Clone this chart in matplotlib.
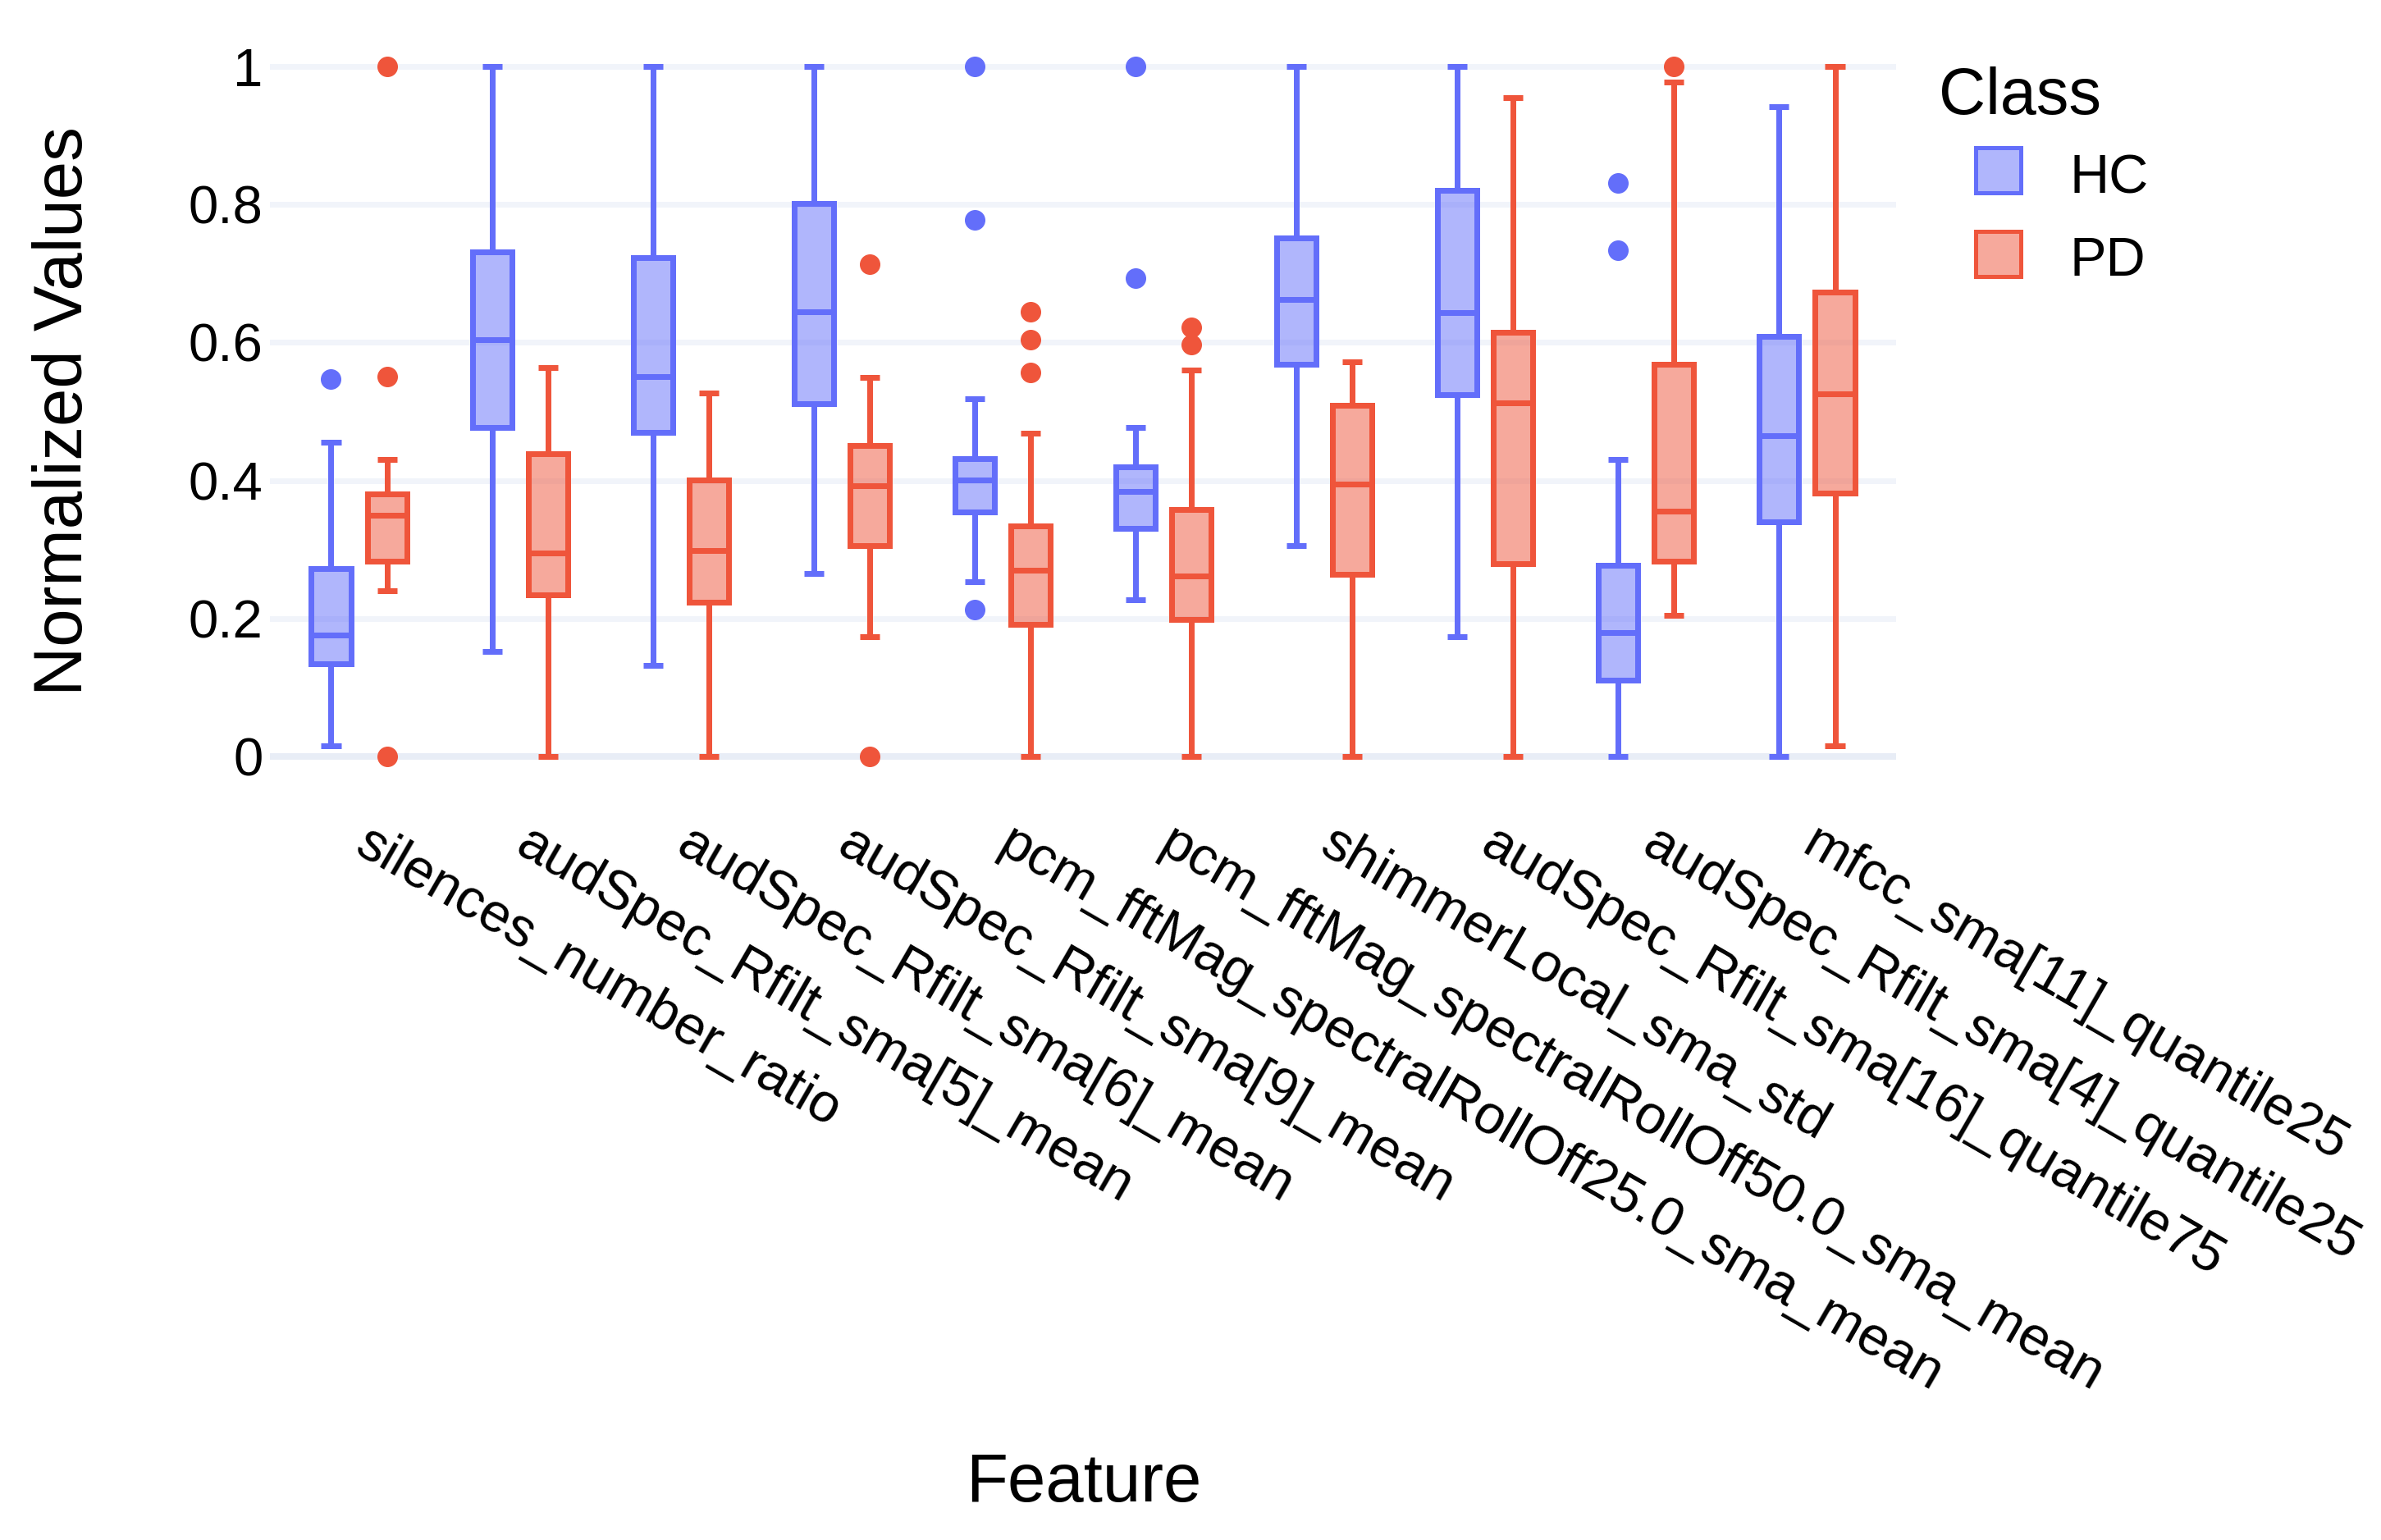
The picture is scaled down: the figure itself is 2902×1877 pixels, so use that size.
import matplotlib
matplotlib.use("Agg")
import matplotlib.pyplot as plt
from matplotlib.patches import Rectangle
from matplotlib.colors import to_rgba

plt.rcParams['font.family'] = ['Liberation Sans', 'DejaVu Sans']

# ---------------- data ----------------
features = [
    "silences_number_ratio",
    "audSpec_Rfilt_sma[5]_mean",
    "audSpec_Rfilt_sma[6]_mean",
    "audSpec_Rfilt_sma[9]_mean",
    "pcm_fftMag_spectralRollOff25.0_sma_mean",
    "pcm_fftMag_spectralRollOff50.0_sma_mean",
    "shimmerLocal_sma_std",
    "audSpec_Rfilt_sma[16]_quantile75",
    "audSpec_Rfilt_sma[4]_quantile25",
    "mfcc_sma[11]_quantile25",
]
classes = ["HC", "PD"]

hc_whislo = [0.015, 0.152, 0.132, 0.265, 0.253, 0.227, 0.305, 0.173, 0.0, 0.0]
hc_q1 = [0.134, 0.477, 0.470, 0.511, 0.354, 0.330, 0.568, 0.524, 0.111, 0.340]
hc_med = [0.176, 0.604, 0.551, 0.645, 0.401, 0.384, 0.662, 0.643, 0.180, 0.465]
hc_q3 = [0.272, 0.731, 0.723, 0.801, 0.432, 0.420, 0.752, 0.820, 0.277, 0.609]
hc_whishi = [0.456, 1.0, 1.0, 1.0, 0.519, 0.477, 1.0, 1.0, 0.430, 0.942]
hc_fliers = [[0.547], [], [], [], [1.0, 0.778, 0.213], [1.0, 0.693], [], [],
             [0.831, 0.734], []]

pd_whislo = [0.240, 0.0, 0.0, 0.173, 0.0, 0.0, 0.0, 0.0, 0.204, 0.015]
pd_q1 = [0.283, 0.234, 0.223, 0.305, 0.191, 0.198, 0.264, 0.280, 0.283, 0.382]
pd_med = [0.350, 0.295, 0.298, 0.392, 0.270, 0.261, 0.395, 0.513, 0.355, 0.526]
pd_q3 = [0.380, 0.439, 0.401, 0.451, 0.334, 0.358, 0.509, 0.615, 0.568, 0.673]
pd_whishi = [0.430, 0.564, 0.527, 0.549, 0.468, 0.560, 0.572, 0.955, 0.978, 1.0]
pd_fliers = [[1.0, 0.551, 0.0], [], [], [0.714, 0.0], [0.645, 0.604, 0.557],
             [0.622, 0.597], [], [], [1.0], []]

y_ticks = [0, 0.2, 0.4, 0.6, 0.8, 1]
y_ticklabels = ["0", "0.2", "0.4", "0.6", "0.8", "1"]

colors = {"HC": "#636EFA", "PD": "#EF553B"}

# ---------------- layout ----------------
DPI = 100
W, H = 2902, 1877
PT = 72 / DPI  # px -> pt

fig = plt.figure(figsize=(W / DPI, H / DPI), dpi=DPI)
fig.patch.set_facecolor("white")


def fx(px):
    return px / W


def fy(py):
    return 1 - py / H


ax = fig.add_axes([fx(329), fy(964), fx(2311) - fx(329), fy(39) - fy(964)])
ax.set_xlim(-0.555, len(features) - 1 + 0.555)
ax.set_ylim(-0.05, 1.05)

LW = 7 * PT
group_offset = 0.175
box_w = 0.245

series = {
    "HC": (hc_whislo, hc_q1, hc_med, hc_q3, hc_whishi, hc_fliers, -group_offset),
    "PD": (pd_whislo, pd_q1, pd_med, pd_q3, pd_whishi, pd_fliers, group_offset),
}

for cls in classes:
    wl, q1, md, q3, wh, fl, off = series[cls]
    c = colors[cls]
    stats = []
    for i in range(len(features)):
        stats.append(dict(whislo=wl[i], q1=q1[i], med=md[i], q3=q3[i],
                          whishi=wh[i], fliers=fl[i]))
    pos = [i + off for i in range(len(features))]
    ax.bxp(stats, positions=pos, widths=box_w, capwidths=box_w / 2,
           patch_artist=True, showfliers=True, manage_ticks=False,
           boxprops=dict(facecolor=to_rgba(c, 0.5), edgecolor=c, linewidth=LW),
           whiskerprops=dict(color=c, linewidth=LW, solid_capstyle="butt"),
           capprops=dict(color=c, linewidth=LW, solid_capstyle="butt"),
           medianprops=dict(color=c, linewidth=LW, solid_capstyle="butt"),
           flierprops=dict(marker="o", markerfacecolor=c, markeredgecolor=c,
                           markersize=17, linestyle="none"),
           zorder=3)

# grid
ax.set_yticks(y_ticks)
ax.set_yticklabels(y_ticklabels)
ax.yaxis.grid(True, color="#F1F4FA", linewidth=7 * PT, zorder=0)
ax.set_axisbelow(True)
ax.axhline(0, color="#E8EDF6", linewidth=8 * PT, zorder=1)
for s in ax.spines.values():
    s.set_visible(False)

ax.set_xticks(range(len(features)))
ax.set_xticklabels(features, rotation=-30, ha="left", va="center",
                   rotation_mode="anchor")
ax.tick_params(axis="x", length=0, pad=43, labelsize=48, labelcolor="black")
ax.tick_params(axis="y", length=0, pad=6, labelsize=47, labelcolor="black")

# axis titles
fig.text(fx(78), fy(501), "Normalized Values", rotation=90, ha="center",
         va="center", fontsize=60, color="black")
fig.text(fx(1321), fy(1830), "Feature", ha="center", va="baseline",
         fontsize=60, color="black")

# legend
fig.text(fx(2363), fy(139), "Class", ha="left", va="baseline", fontsize=57,
         color="black")
for cls, (ytop, ycen) in zip(classes, [(180, 211), (282, 312)]):
    c = colors[cls]
    rect = Rectangle((fx(2408), fy(ytop + 55)), fx(55), 55 / H,
                     transform=fig.transFigure, facecolor=to_rgba(c, 0.5),
                     edgecolor=c, linewidth=5 * PT)
    fig.add_artist(rect)
    fig.text(fx(2522), fy(ycen), cls, ha="left", va="center_baseline",
             fontsize=48, color="black")

fig.savefig("out.png", dpi=DPI)
